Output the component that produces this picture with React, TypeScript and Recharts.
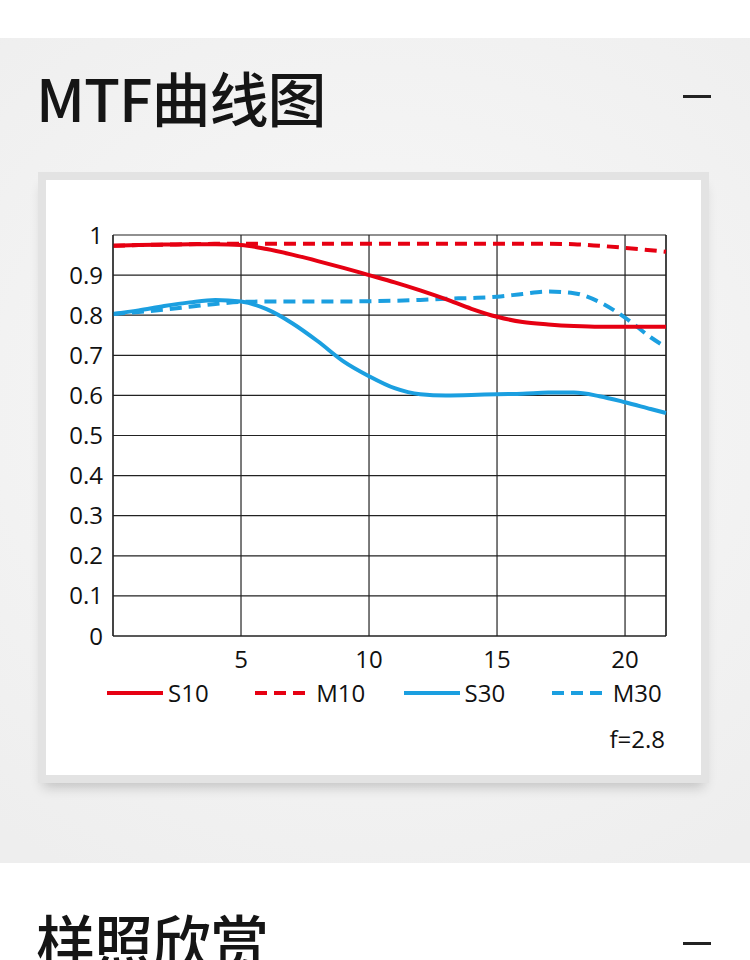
import { LineChart, Line, XAxis, YAxis, CartesianGrid, ReferenceLine, Legend } from "recharts";

// image height (mm from centre) and MTF contrast values
const positions = [0, 1, 2, 3, 4, 5, 6, 7, 8, 9, 10, 11, 12, 13, 14, 15, 16, 17, 18, 19, 20, 21, 21.6];
const s10 = [0.973, 0.975, 0.976, 0.977, 0.977, 0.975, 0.965, 0.951, 0.935, 0.918, 0.9, 0.882, 0.862, 0.84, 0.816, 0.796, 0.783, 0.777, 0.773, 0.771, 0.771, 0.771, 0.771];
const m10 = [0.973, 0.975, 0.976, 0.977, 0.978, 0.978, 0.978, 0.978, 0.978, 0.978, 0.978, 0.978, 0.978, 0.978, 0.978, 0.978, 0.978, 0.978, 0.977, 0.973, 0.968, 0.962, 0.958];
const s30 = [0.803, 0.812, 0.823, 0.832, 0.838, 0.834, 0.815, 0.78, 0.735, 0.685, 0.648, 0.618, 0.603, 0.6, 0.601, 0.603, 0.604, 0.607, 0.607, 0.598, 0.583, 0.566, 0.556];
const m30 = [0.803, 0.808, 0.814, 0.821, 0.828, 0.833, 0.834, 0.834, 0.834, 0.834, 0.835, 0.836, 0.838, 0.841, 0.843, 0.846, 0.853, 0.859, 0.855, 0.833, 0.794, 0.745, 0.72];

const xTicks = [5, 10, 15, 20];
const yTicks = [0, 0.1, 0.2, 0.3, 0.4, 0.5, 0.6, 0.7, 0.8, 0.9, 1];
const seriesNames = ["S10", "M10", "S30", "M30"];
const aperture = "f=2.8";
const title = "MTF曲线图";
const nextTitle = "样照欣赏";

const RED = "#e60012";
const BLUE = "#1b9fe0";
const GRID = "#222";
const FONT = "'Open Sans', 'Noto Sans', sans-serif";
const CJK = "'Noto Sans CJK SC', sans-serif";

const lineStyle: Record<string, { color: string; dash?: string }> = {
  S10: { color: RED },
  M10: { color: RED, dash: "12 7" },
  S30: { color: BLUE },
  M30: { color: BLUE, dash: "12 7" },
};

const data = positions.map((x, i) => ({
  x,
  S10: s10[i],
  M10: m10[i],
  S30: s30[i],
  M30: m30[i],
}));

const tickStyle = { fontSize: 24, fill: "#111", fontFamily: FONT };

const headingStyle = {
  position: "absolute" as const,
  left: 36,
  fontFamily: CJK,
  fontWeight: 500,
  fontSize: 59,
  lineHeight: "59px",
  letterSpacing: -1,
  color: "#151515",
};

const renderLegend = () => (
  <div style={{ position: "relative", height: 84, fontFamily: FONT, fontSize: 24, color: "#111" }}>
    <div style={{ display: "flex", alignItems: "center", height: 34, paddingLeft: 60 }}>
      {seriesNames.map((name) => (
        <div key={name} style={{ width: 150, display: "flex", alignItems: "center" }}>
          <svg width={56} height={6}>
            <line
              x1={0}
              y1={3}
              x2={56}
              y2={3}
              stroke={lineStyle[name].color}
              strokeWidth={4}
              strokeDasharray={lineStyle[name].dash}
            />
          </svg>
          <span style={{ marginLeft: 5, lineHeight: "24px" }}>{name}</span>
        </div>
      ))}
    </div>
    <div style={{ position: "absolute", right: 35, top: 51, lineHeight: "24px" }}>{aperture}</div>
  </div>
);

export default function App() {
  return (
    <div style={{ position: "relative", width: 750, height: 960, overflow: "hidden", background: "#fff" }}>
      <style>{"body{margin:0}"}</style>

      {/* grey header band */}
      <div
        style={{
          position: "absolute",
          left: 0,
          top: 38,
          width: 750,
          height: 825,
          background: "radial-gradient(ellipse 80% 65% at 50% 45%, #f9f9f9 0%, #eeeeee 100%)",
        }}
      />

      <div style={{ ...headingStyle, top: 67 }}>{title}</div>
      <div style={{ position: "absolute", left: 683, top: 95, width: 28, height: 3, background: "#222" }} />

      {/* card */}
      <div
        style={{
          position: "absolute",
          left: 38,
          top: 172,
          width: 671,
          height: 611,
          boxSizing: "border-box",
          border: "8px solid #e3e3e3",
          background: "#fff",
          boxShadow: "0 9px 12px -5px rgba(0,0,0,0.2)",
        }}
      />

      <div style={{ position: "absolute", left: 47, top: 200 }}>
        <LineChart width={653} height={570} data={data} margin={{ top: 35, right: 34, bottom: 10, left: 0 }}>
          <CartesianGrid stroke={GRID} strokeWidth={1.2} />
          <XAxis
            dataKey="x"
            type="number"
            domain={[0, 21.6]}
            ticks={xTicks}
            height={40}
            tickSize={0}
            tickMargin={15}
            axisLine={{ stroke: GRID, strokeWidth: 1.2 }}
            tick={tickStyle}
          />
          <YAxis
            type="number"
            domain={[0, 1]}
            ticks={yTicks}
            width={66}
            tickSize={0}
            tickMargin={10}
            axisLine={{ stroke: GRID, strokeWidth: 1.2 }}
            tick={tickStyle}
            tickFormatter={(v: number) => String(v)}
          />
          <ReferenceLine x={21.6} stroke={GRID} strokeWidth={1.2} />
          <Legend verticalAlign="bottom" content={renderLegend} wrapperStyle={{ left: 0, width: 653 }} />
          <Line dataKey="M10" type="monotone" stroke={RED} strokeWidth={4} strokeDasharray="12 7" dot={false} activeDot={false} isAnimationActive={false} />
          <Line dataKey="S30" type="monotone" stroke={BLUE} strokeWidth={4} dot={false} activeDot={false} isAnimationActive={false} />
          <Line dataKey="M30" type="monotone" stroke={BLUE} strokeWidth={4} strokeDasharray="12 7" dot={false} activeDot={false} isAnimationActive={false} />
          <Line dataKey="S10" type="monotone" stroke={RED} strokeWidth={4} dot={false} activeDot={false} isAnimationActive={false} />
        </LineChart>
      </div>

      <div style={{ ...headingStyle, top: 910 }}>{nextTitle}</div>
      <div style={{ position: "absolute", left: 683, top: 942, width: 28, height: 3, background: "#222" }} />
    </div>
  );
}
